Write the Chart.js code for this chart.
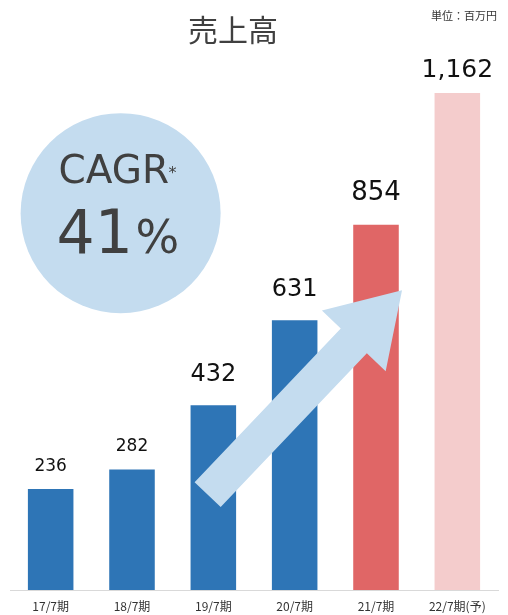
<!DOCTYPE html>
<html>
<head>
<meta charset="utf-8">
<script src="https://cdn.jsdelivr.net/npm/chart.js@4/dist/chart.umd.min.js"></script>
<style>
html, body { margin: 0; padding: 0; background: #fff; }
#wrap { width: 508px; height: 615px; }
</style>
</head>
<body>
<div id="wrap"><canvas id="uriage"></canvas></div>
<script>
// 売上高 (百万円)
const categories = ['17/7期', '18/7期', '19/7期', '20/7期', '21/7期', '22/7期(予)'];
const sales = [236, 282, 432, 631, 854, 1162];

const chartTitle = '売上高';
const unitLabel = '単位：百万円';
const cagrLabel = 'CAGR';
const cagrValue = '41';

const barColors = ['#2E75B6', '#2E75B6', '#2E75B6', '#2E75B6', '#E06666', '#F4CCCC'];
const labelSizes = [17, 17, 24, 24, 26, 25];
const labelGaps = [18, 18, 24, 24, 25, 16];

const numFont = '"DejaVu Sans", Verdana, sans-serif';
const jpFont = '"Noto Sans CJK JP", "DejaVu Sans", sans-serif';
const lightBlue = '#C4DCEF';

const decor = {
    id: 'decor',
    beforeDatasetsDraw(chart) {
        const ctx = chart.ctx;
        const x = chart.scales.x, y = chart.scales.y;

        // title + unit
        ctx.save();
        ctx.fillStyle = '#404040';
        ctx.font = '30px ' + jpFont;
        ctx.textAlign = 'center';
        ctx.textBaseline = 'middle';
        ctx.fillText(chartTitle, 233, 30);
        ctx.font = '11px ' + jpFont;
        ctx.textAlign = 'right';
        ctx.fillStyle = '#333';
        ctx.fillText(unitLabel, 497, 16);

        // CAGR circle
        const cx = x.getPixelForValue(0.86);
        const cy = y.getPixelForValue(881);
        ctx.beginPath();
        ctx.arc(cx, cy, 100, 0, Math.PI * 2);
        ctx.fillStyle = lightBlue;
        ctx.fill();

        ctx.fillStyle = '#404040';
        ctx.textBaseline = 'alphabetic';
        ctx.textAlign = 'left';
        ctx.font = '39px ' + numFont;
        ctx.fillText(cagrLabel, cx - 62, cy - 30);
        ctx.font = '16px ' + numFont;
        ctx.fillText('*', cx + 48, cy - 35);
        ctx.font = '60px ' + numFont;
        ctx.fillText(cagrValue, cx - 64, cy + 40);
        ctx.font = '46px ' + numFont;
        ctx.fillText('%', cx + 15, cy + 40);
        ctx.restore();
    },
    afterDatasetsDraw(chart) {
        const ctx = chart.ctx;
        const x = chart.scales.x, y = chart.scales.y;

        // arrow
        const tx = x.getPixelForValue(1.93), ty = y.getPixelForValue(223);
        const px = x.getPixelForValue(4.32), py = y.getPixelForValue(701);
        const len = Math.hypot(px - tx, py - ty);
        const ux = (px - tx) / len, uy = (py - ty) / len;
        const nx = -uy, ny = ux;
        const headLen = 70, shaft = 18, head = 44;
        const bx = px - ux * headLen, by = py - uy * headLen;
        ctx.save();
        ctx.beginPath();
        ctx.moveTo(tx + nx * shaft, ty + ny * shaft);
        ctx.lineTo(bx + nx * shaft, by + ny * shaft);
        ctx.lineTo(bx + nx * head, by + ny * head);
        ctx.lineTo(px, py);
        ctx.lineTo(bx - nx * head, by - ny * head);
        ctx.lineTo(bx - nx * shaft, by - ny * shaft);
        ctx.lineTo(tx - nx * shaft, ty - ny * shaft);
        ctx.closePath();
        ctx.fillStyle = lightBlue;
        ctx.fill();

        // value labels
        const meta = chart.getDatasetMeta(0);
        ctx.fillStyle = '#111';
        ctx.textAlign = 'center';
        ctx.textBaseline = 'alphabetic';
        meta.data.forEach(function (bar, i) {
            ctx.font = labelSizes[i] + 'px ' + numFont;
            ctx.fillText(sales[i].toLocaleString('en-US'), bar.x, bar.y - labelGaps[i]);
        });
        ctx.restore();
    }
};

const ctx = document.getElementById('uriage');

const chart = new Chart(ctx, {
    type: 'bar',
    data: {
        labels: categories,
        datasets: [{
            data: sales,
            backgroundColor: barColors,
            borderWidth: 0,
            categoryPercentage: 1,
            barPercentage: 0.56
        }]
    },
    options: {
        responsive: true,
        maintainAspectRatio: false,
        animation: false,
        layout: {
            padding: { top: 34, left: 10, right: 10, bottom: 0 }
        },
        plugins: {
            legend: { display: false },
            tooltip: { enabled: false }
        },
        scales: {
            x: {
                grid: { color: 'rgba(0,0,0,0)', drawTicks: false },
                border: { display: true, color: '#d9d9d9', width: 1 },
                ticks: {
                    padding: 9,
                    color: '#333',
                    font: { family: jpFont, size: 12 }
                },
                afterFit: function (scale) {
                    scale.height = 25;
                }
            },
            y: {
                display: false,
                min: 0,
                max: 1300
            }
        }
    },
    plugins: [decor]
});
</script>
</body>
</html>
